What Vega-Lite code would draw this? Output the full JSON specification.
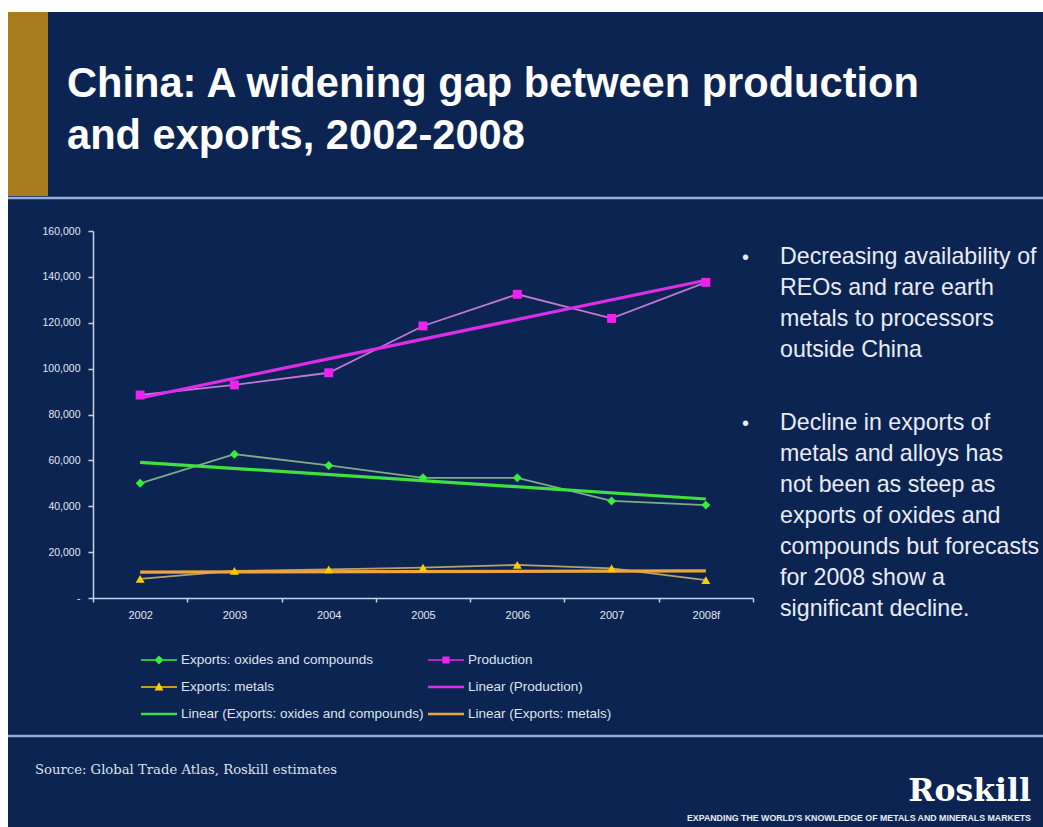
{
  "$schema": "https://vega.github.io/schema/vega-lite/v6.json",
  "width": 1043,
  "height": 827,
  "autosize": {"type": "none"},
  "padding": 0,
  "background": "#0b2452",
  "config": {
    "view": {"stroke": null},
    "font": "Liberation Sans",
    "legend": {
      "title": null, "orient": "none", "padding": 0, "labelOffset": 4, "labelLimit": 400,
      "labelFont": "Liberation Sans", "labelFontSize": 13.5, "labelColor": "#dde3ee",
      "symbolSize": 1296, "symbolStrokeWidth": 0, "symbolOpacity": 1
    }
  },
  "data": {
    "values": [
      {"period": "2002", "year": 2002, "series": "Exports: oxides and compounds", "value": 50000},
      {"period": "2003", "year": 2003, "series": "Exports: oxides and compounds", "value": 62700},
      {"period": "2004", "year": 2004, "series": "Exports: oxides and compounds", "value": 57800},
      {"period": "2005", "year": 2005, "series": "Exports: oxides and compounds", "value": 52400},
      {"period": "2006", "year": 2006, "series": "Exports: oxides and compounds", "value": 52400},
      {"period": "2007", "year": 2007, "series": "Exports: oxides and compounds", "value": 42300},
      {"period": "2008f", "year": 2008, "series": "Exports: oxides and compounds", "value": 40500},
      {"period": "2002", "year": 2002, "series": "Production", "value": 88500},
      {"period": "2003", "year": 2003, "series": "Production", "value": 92900},
      {"period": "2004", "year": 2004, "series": "Production", "value": 98200},
      {"period": "2005", "year": 2005, "series": "Production", "value": 118600},
      {"period": "2006", "year": 2006, "series": "Production", "value": 132400},
      {"period": "2007", "year": 2007, "series": "Production", "value": 121900},
      {"period": "2008f", "year": 2008, "series": "Production", "value": 137600},
      {"period": "2002", "year": 2002, "series": "Exports: metals", "value": 8300},
      {"period": "2003", "year": 2003, "series": "Exports: metals", "value": 11800},
      {"period": "2004", "year": 2004, "series": "Exports: metals", "value": 12500},
      {"period": "2005", "year": 2005, "series": "Exports: metals", "value": 13200},
      {"period": "2006", "year": 2006, "series": "Exports: metals", "value": 14400},
      {"period": "2007", "year": 2007, "series": "Exports: metals", "value": 12900},
      {"period": "2008f", "year": 2008, "series": "Exports: metals", "value": 7800}
    ]
  },
  "layer": [
    {
      "data": {"values": [{}]},
      "mark": {"type": "rect", "color": "#ffffff", "x": 0, "x2": 1043, "y": 0, "y2": 12},
      "encoding": {}
    },
    {
      "data": {"values": [{}]},
      "mark": {"type": "rect", "color": "#ffffff", "x": 0, "x2": 8, "y": 0, "y2": 827},
      "encoding": {}
    },
    {
      "data": {"values": [{}]},
      "mark": {"type": "rect", "color": "#a77d1f", "x": 8, "x2": 48, "y": 12, "y2": 196},
      "encoding": {}
    },
    {
      "data": {"values": [{"pos": 198}, {"pos": 736}]},
      "mark": {"type": "rule", "color": "#9aaed2", "strokeWidth": 2.5},
      "encoding": {
        "x": {"value": 8},
        "x2": {"value": 1043},
        "y": {"field": "pos", "type": "quantitative", "scale": {"domain": [0, 827], "range": [0, 827]}, "axis": null}
      }
    },
    {
      "data": {"values": [{}]},
      "mark": {"type": "text", "align": "left", "baseline": "alphabetic", "font": "Liberation Sans", "fontWeight": "bold", "fontSize": 41.6, "lineHeight": 52, "color": "#ffffff"},
      "encoding": {
        "x": {"value": 67},
        "y": {"value": 97},
        "text": {"value": ["China: A widening gap between production", "and exports, 2002-2008"]}
      }
    },
    {
      "data": {"values": [{}]},
      "mark": {"type": "text", "align": "left", "baseline": "alphabetic", "font": "Liberation Sans", "fontSize": 23.2, "lineHeight": 31, "color": "#e8ecf4"},
      "encoding": {
        "x": {"value": 780},
        "y": {"value": 264},
        "text": {"value": ["Decreasing availability of", "REOs and rare earth", "metals to processors", "outside China"]}
      }
    },
    {
      "data": {"values": [{}]},
      "mark": {"type": "text", "align": "left", "baseline": "alphabetic", "font": "Liberation Sans", "fontSize": 23.2, "lineHeight": 31, "color": "#e8ecf4"},
      "encoding": {
        "x": {"value": 780},
        "y": {"value": 430},
        "text": {"value": ["Decline in exports of", "metals and alloys has", "not been as steep as", "exports of oxides and", "compounds but forecasts", "for 2008 show a", "significant decline."]}
      }
    },
    {
      "data": {"values": [{"line": 264}, {"line": 430}]},
      "mark": {"type": "text", "align": "left", "baseline": "alphabetic", "font": "Liberation Sans", "fontSize": 20, "color": "#e8ecf4", "text": "•"},
      "encoding": {
        "x": {"value": 742},
        "y": {"field": "line", "type": "quantitative", "scale": {"domain": [0, 827], "range": [0, 827]}, "axis": null}
      }
    },
    {
      "data": {"values": [{}]},
      "mark": {"type": "text", "align": "left", "baseline": "alphabetic", "font": "DejaVu Serif", "fontSize": 13.2, "color": "#dde2ec"},
      "encoding": {
        "x": {"value": 35},
        "y": {"value": 774},
        "text": {"value": "Source: Global Trade Atlas, Roskill estimates"}
      }
    },
    {
      "data": {"values": [{}]},
      "mark": {"type": "text", "align": "right", "baseline": "alphabetic", "font": "DejaVu Serif", "fontWeight": "bold", "fontSize": 31.5, "color": "#ffffff"},
      "encoding": {
        "x": {"value": 1031},
        "y": {"value": 801},
        "text": {"value": "Roskill"}
      }
    },
    {
      "data": {"values": [{}]},
      "mark": {"type": "text", "align": "right", "baseline": "alphabetic", "font": "Liberation Sans", "fontWeight": "bold", "fontSize": 8.8, "color": "#e8ecf4"},
      "encoding": {
        "x": {"value": 1031},
        "y": {"value": 821},
        "text": {"value": "EXPANDING THE WORLD'S KNOWLEDGE OF METALS AND MINERALS MARKETS"}
      }
    },
    {
      "mark": {"type": "line", "strokeWidth": 1.8},
      "encoding": {
        "x": {
          "field": "period", "type": "ordinal", "bandPosition": 0.5,
          "scale": {"type": "band", "range": [93, 753], "paddingInner": 0, "paddingOuter": 0},
          "axis": {
            "orient": "bottom", "offset": -229, "title": null, "tickBand": "extent", "labelAngle": 0,
            "domainColor": "#c8d2e6", "domainWidth": 1.5, "tickColor": "#c8d2e6", "tickWidth": 1.5, "tickSize": 4,
            "labelColor": "#e2e7f0", "labelFont": "Liberation Sans", "labelFontSize": 11, "labelPadding": 7
          }
        },
        "y": {
          "field": "value", "type": "quantitative",
          "scale": {"domain": [0, 160000], "range": [598, 231], "nice": false, "zero": true},
          "axis": {
            "orient": "left", "offset": -93, "title": null, "grid": false,
            "values": [0, 20000, 40000, 60000, 80000, 100000, 120000, 140000, 160000],
            "labelExpr": "datum.value == 0 ? '-' : format(datum.value, ',')",
            "domainColor": "#c8d2e6", "domainWidth": 1.5, "tickColor": "#c8d2e6", "tickWidth": 1.5, "tickSize": 5,
            "labelColor": "#e2e7f0", "labelFont": "Liberation Sans", "labelFontSize": 10.5, "labelPadding": 8
          }
        },
        "color": {
          "field": "series", "type": "nominal", "legend": null,
          "scale": {"domain": ["Exports: oxides and compounds", "Production", "Exports: metals"], "range": ["#7eab88", "#bf78d6", "#b5a36c"]}
        }
      }
    },
    {
      "transform": [{"regression": "value", "on": "year", "groupby": ["series"], "method": "linear"}],
      "mark": {"type": "line", "strokeWidth": 3.2},
      "encoding": {
        "x": {
          "field": "year", "type": "quantitative",
          "scale": {"domain": [2001.5, 2008.5], "range": [93, 753], "nice": false, "zero": false},
          "axis": null
        },
        "y": {
          "field": "value", "type": "quantitative",
          "scale": {"domain": [0, 160000], "range": [598, 231], "nice": false, "zero": true},
          "axis": null
        },
        "color": {
          "field": "series", "type": "nominal", "legend": null,
          "scale": {"domain": ["Exports: oxides and compounds", "Production", "Exports: metals"], "range": ["#3fe03f", "#dc2ee8", "#f0a53c"]}
        }
      }
    },
    {
      "mark": {"type": "point", "filled": true, "opacity": 1, "size": 80},
      "encoding": {
        "x": {
          "field": "period", "type": "ordinal", "bandPosition": 0.5,
          "scale": {"type": "band", "range": [93, 753], "paddingInner": 0, "paddingOuter": 0},
          "axis": null
        },
        "y": {
          "field": "value", "type": "quantitative",
          "scale": {"domain": [0, 160000], "range": [598, 231], "nice": false, "zero": true},
          "axis": null
        },
        "color": {
          "field": "series", "type": "nominal", "legend": null,
          "scale": {"domain": ["Exports: oxides and compounds", "Production", "Exports: metals"], "range": ["#38ee38", "#ee22ee", "#ffcc00"]}
        },
        "shape": {
          "field": "series", "type": "nominal", "legend": null,
          "scale": {"domain": ["Exports: oxides and compounds", "Production", "Exports: metals"], "range": ["diamond", "square", "triangle-up"]}
        }
      }
    },
    {
      "mark": {"type": "point", "filled": true, "opacity": 0, "size": 1296},
      "encoding": {
        "color": {
          "field": "series", "type": "nominal",
          "scale": {"domain": ["Exports: oxides and compounds"], "range": ["#38ee38"]},
          "legend": {"legendX": 141, "legendY": 642, "symbolType": "M-1,-0.045H1V0.045H-1ZM0,-0.25L0.25,0L0,0.25L-0.25,0Z"}
        }
      }
    },
    {
      "mark": {"type": "point", "filled": true, "opacity": 0, "size": 1296},
      "encoding": {
        "color": {
          "field": "series", "type": "nominal",
          "scale": {"domain": ["Production"], "range": ["#ee22ee"]},
          "legend": {"legendX": 428, "legendY": 642, "symbolType": "M-1,-0.045H1V0.045H-1ZM-0.2,-0.2H0.2V0.2H-0.2Z"}
        }
      }
    },
    {
      "mark": {"type": "point", "filled": true, "opacity": 0, "size": 1296},
      "encoding": {
        "color": {
          "field": "series", "type": "nominal",
          "scale": {"domain": ["Exports: metals"], "range": ["#ffcc00"]},
          "legend": {"legendX": 141, "legendY": 669, "symbolType": "M-1,-0.045H1V0.045H-1ZM0,-0.27L0.25,0.2H-0.25Z"}
        }
      }
    },
    {
      "mark": {"type": "point", "filled": true, "opacity": 0, "size": 1296},
      "encoding": {
        "color": {
          "field": "series", "type": "nominal",
          "scale": {"domain": ["Linear (Production)"], "range": ["#dc2ee8"]},
          "legend": {"legendX": 428, "legendY": 669, "symbolType": "M-1,-0.065H1V0.065H-1Z"}
        }
      }
    },
    {
      "mark": {"type": "point", "filled": true, "opacity": 0, "size": 1296},
      "encoding": {
        "color": {
          "field": "series", "type": "nominal",
          "scale": {"domain": ["Linear (Exports: oxides and compounds)"], "range": ["#3fe03f"]},
          "legend": {"legendX": 141, "legendY": 696, "symbolType": "M-1,-0.065H1V0.065H-1Z"}
        }
      }
    },
    {
      "mark": {"type": "point", "filled": true, "opacity": 0, "size": 1296},
      "encoding": {
        "color": {
          "field": "series", "type": "nominal",
          "scale": {"domain": ["Linear (Exports: metals)"], "range": ["#f0a53c"]},
          "legend": {"legendX": 428, "legendY": 696, "symbolType": "M-1,-0.065H1V0.065H-1Z"}
        }
      }
    }
  ],
  "resolve": {"scale": {"x": "independent", "y": "independent", "color": "independent", "shape": "independent"}}
}
